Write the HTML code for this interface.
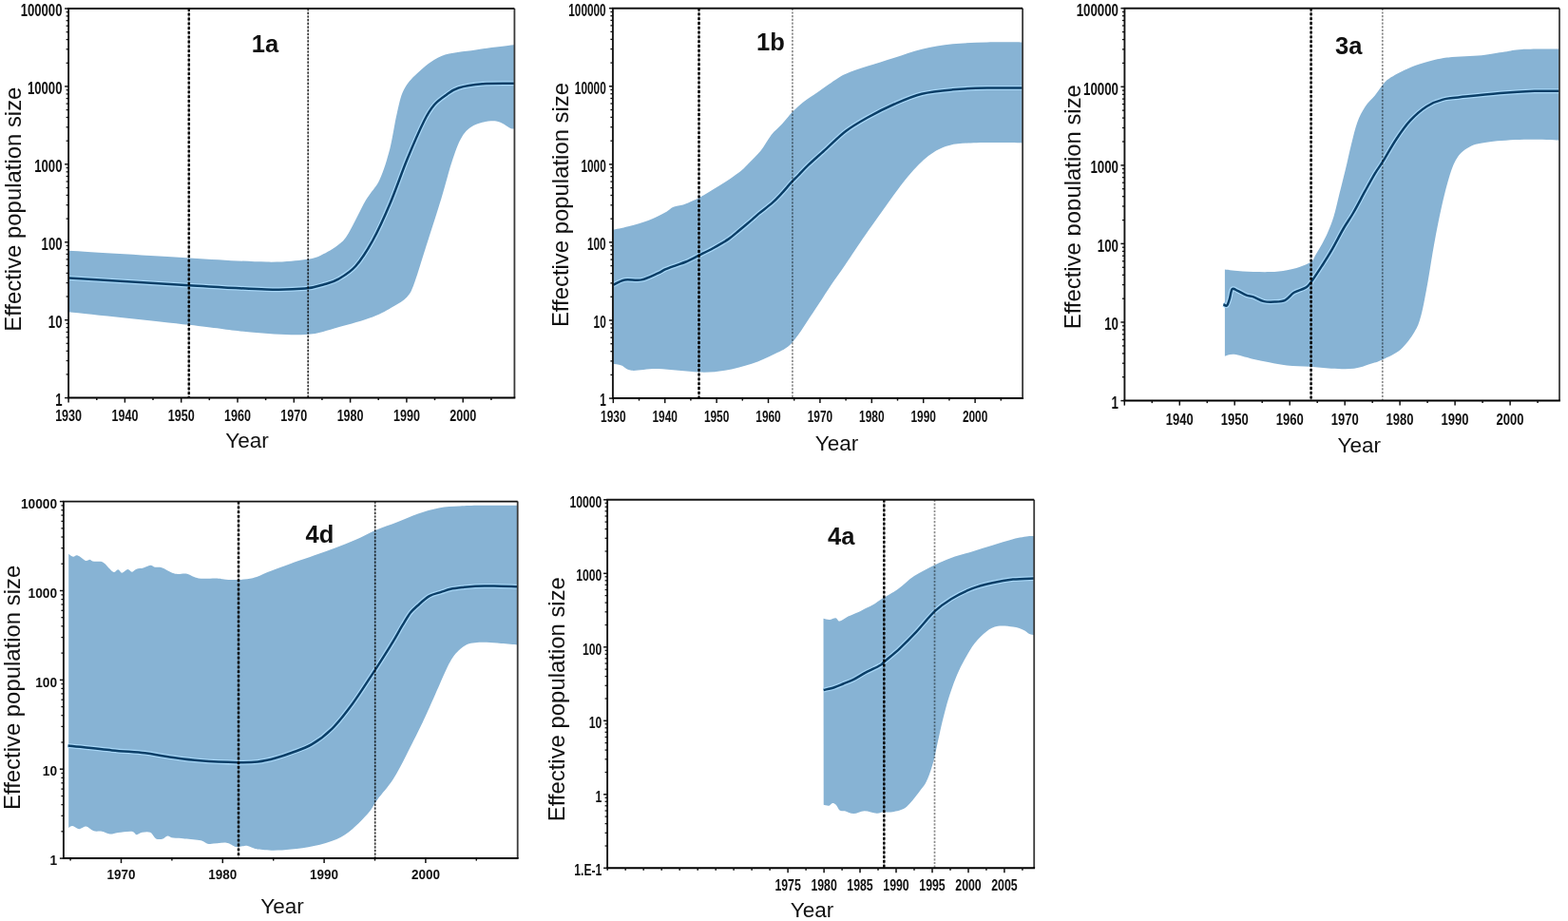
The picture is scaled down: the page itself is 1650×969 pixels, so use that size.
<!DOCTYPE html>
<html><head><meta charset="utf-8"><title>Effective population size</title>
<style>
html,body{margin:0;padding:0;background:#fff;}
body{width:1650px;height:969px;overflow:hidden;}
svg{display:block;}
.t{font-family:"Liberation Sans",Arial,sans-serif;fill:#111;}
.n{font-family:"Liberation Sans",Arial,sans-serif;font-weight:bold;fill:#111;}
.b{font-family:"Liberation Sans",Arial,sans-serif;font-weight:bold;fill:#111;}
</style></head>
<body>
<svg width="1650" height="969" viewBox="0 0 1650 969">
<defs><clipPath id="c3a"><rect x="1100" y="0" width="36.9" height="480"/></clipPath></defs>
<rect width="1650" height="969" fill="#fff"/>
<clipPath id="cp1a"><rect x="72.1" y="9.0" width="469.3" height="409.6"/></clipPath>
<g clip-path="url(#cp1a)">
<path d="M72.1,263.8 C93.3,265.1 164.3,269.4 199.1,271.4 C233.8,273.4 260.2,275.3 280.6,275.6 C301.0,275.9 311.7,274.2 321.3,273.0 C330.9,271.8 332.2,271.0 338.0,268.4 C343.8,265.8 351.3,261.4 356.1,257.5 C360.9,253.6 362.2,252.7 367.0,244.9 C371.8,237.1 379.6,219.9 385.0,210.6 C390.4,201.3 395.3,197.9 399.5,188.9 C403.7,179.9 407.3,167.8 410.3,156.4 C413.3,145.0 415.1,130.5 417.5,120.3 C419.9,110.1 421.1,102.2 424.7,95.0 C428.3,87.8 432.6,83.0 439.2,77.0 C445.8,71.0 454.3,63.0 464.5,58.9 C474.7,54.8 488.0,54.3 500.6,52.4 C513.2,50.5 533.5,48.1 540.3,47.3 C547.1,46.4 541.2,47.3 541.4,47.3 L541.4,135.5 C540.6,135.4 539.9,136.0 536.7,134.7 C533.5,133.4 528.2,128.1 522.2,127.5 C516.2,126.9 506.6,128.3 500.6,131.1 C494.6,133.8 490.3,137.3 486.1,144.0 C481.9,150.7 478.9,160.2 475.3,171.0 C471.7,181.8 469.3,192.8 464.5,208.5 C459.7,224.2 451.2,250.4 446.4,265.5 C441.6,280.6 438.6,291.2 435.6,299.0 C432.6,306.8 431.9,308.6 428.3,312.5 C424.7,316.4 419.9,319.0 413.9,322.5 C407.9,326.0 401.8,329.8 392.2,333.4 C382.6,337.0 367.9,341.1 356.1,344.2 C344.3,347.3 336.7,351.1 321.3,352.0 C305.9,352.9 284.0,351.2 263.6,349.5 C243.2,347.8 230.9,345.4 199.0,341.8 C167.1,338.2 93.2,330.5 72.1,328.2 Z" fill="#87b3d4"/>
<path d="M72.7,292.6 C93.8,293.9 164.4,298.2 199.0,300.2 C233.6,302.2 259.7,303.9 280.0,304.5 C300.3,305.1 310.7,304.5 321.0,303.6 C331.3,302.7 335.8,300.7 341.7,299.0 C347.6,297.3 350.7,296.8 356.1,293.6 C361.5,290.4 368.2,286.8 374.2,280.0 C380.2,273.2 386.2,263.9 392.2,253.0 C398.2,242.1 404.3,228.7 410.3,214.5 C416.3,200.3 422.3,182.6 428.3,168.0 C434.3,153.4 441.6,136.6 446.4,127.0 C451.2,117.4 453.1,114.8 457.0,110.3 C460.9,105.8 465.2,103.0 469.5,100.0 C473.8,97.0 476.1,94.5 482.5,92.5 C488.9,90.5 498.0,89.1 507.8,88.3 C517.6,87.5 535.8,87.9 541.4,87.8" fill="none" stroke="#a8d7f7" stroke-width="5" stroke-linejoin="round"/>
<path d="M72.7,292.6 C93.8,293.9 164.4,298.2 199.0,300.2 C233.6,302.2 259.7,303.9 280.0,304.5 C300.3,305.1 310.7,304.5 321.0,303.6 C331.3,302.7 335.8,300.7 341.7,299.0 C347.6,297.3 350.7,296.8 356.1,293.6 C361.5,290.4 368.2,286.8 374.2,280.0 C380.2,273.2 386.2,263.9 392.2,253.0 C398.2,242.1 404.3,228.7 410.3,214.5 C416.3,200.3 422.3,182.6 428.3,168.0 C434.3,153.4 441.6,136.6 446.4,127.0 C451.2,117.4 453.1,114.8 457.0,110.3 C460.9,105.8 465.2,103.0 469.5,100.0 C473.8,97.0 476.1,94.5 482.5,92.5 C488.9,90.5 498.0,89.1 507.8,88.3 C517.6,87.5 535.8,87.9 541.4,87.8" fill="none" stroke="#0b3f68" stroke-width="2.5" stroke-linejoin="round"/>
</g>
<line x1="198.8" y1="9.0" x2="198.8" y2="418.6" stroke="#000" stroke-opacity="0.35" stroke-width="1.3"/>
<line x1="198.8" y1="9.0" x2="198.8" y2="418.6" stroke="#000" stroke-width="2.5" stroke-dasharray="2.8 2"/>
<line x1="324.2" y1="9.0" x2="324.2" y2="418.6" stroke="#000" stroke-opacity="0.2" stroke-width="1"/>
<line x1="324.2" y1="9.0" x2="324.2" y2="418.6" stroke="#000" stroke-opacity="0.75" stroke-width="1.7" stroke-dasharray="2.2 1.5"/>
<line x1="541.4" y1="9.0" x2="541.4" y2="418.6" stroke="#3a3a3a" stroke-width="1.8"/>
<path d="M72.1,418.6 L72.1,9.0 L541.4,9.0" fill="none" stroke="#151515" stroke-width="1.9"/>
<line x1="71.19999999999999" y1="418.6" x2="542.3" y2="418.6" stroke="#000" stroke-width="2"/>
<line x1="68.1" y1="418.6" x2="72.1" y2="418.6" stroke="#111" stroke-width="1.5"/>
<line x1="69.6" y1="393.9" x2="72.1" y2="393.9" stroke="#111" stroke-width="1.3"/>
<line x1="69.6" y1="379.5" x2="72.1" y2="379.5" stroke="#111" stroke-width="1.3"/>
<line x1="69.6" y1="369.3" x2="72.1" y2="369.3" stroke="#111" stroke-width="1.3"/>
<line x1="69.6" y1="361.3" x2="72.1" y2="361.3" stroke="#111" stroke-width="1.3"/>
<line x1="69.6" y1="354.9" x2="72.1" y2="354.9" stroke="#111" stroke-width="1.3"/>
<line x1="69.6" y1="349.4" x2="72.1" y2="349.4" stroke="#111" stroke-width="1.3"/>
<line x1="69.6" y1="344.6" x2="72.1" y2="344.6" stroke="#111" stroke-width="1.3"/>
<line x1="69.6" y1="340.4" x2="72.1" y2="340.4" stroke="#111" stroke-width="1.3"/>
<line x1="68.1" y1="336.7" x2="72.1" y2="336.7" stroke="#111" stroke-width="1.5"/>
<line x1="69.6" y1="312.0" x2="72.1" y2="312.0" stroke="#111" stroke-width="1.3"/>
<line x1="69.6" y1="297.6" x2="72.1" y2="297.6" stroke="#111" stroke-width="1.3"/>
<line x1="69.6" y1="287.4" x2="72.1" y2="287.4" stroke="#111" stroke-width="1.3"/>
<line x1="69.6" y1="279.4" x2="72.1" y2="279.4" stroke="#111" stroke-width="1.3"/>
<line x1="69.6" y1="272.9" x2="72.1" y2="272.9" stroke="#111" stroke-width="1.3"/>
<line x1="69.6" y1="267.4" x2="72.1" y2="267.4" stroke="#111" stroke-width="1.3"/>
<line x1="69.6" y1="262.7" x2="72.1" y2="262.7" stroke="#111" stroke-width="1.3"/>
<line x1="69.6" y1="258.5" x2="72.1" y2="258.5" stroke="#111" stroke-width="1.3"/>
<line x1="68.1" y1="254.8" x2="72.1" y2="254.8" stroke="#111" stroke-width="1.5"/>
<line x1="69.6" y1="230.1" x2="72.1" y2="230.1" stroke="#111" stroke-width="1.3"/>
<line x1="69.6" y1="215.7" x2="72.1" y2="215.7" stroke="#111" stroke-width="1.3"/>
<line x1="69.6" y1="205.4" x2="72.1" y2="205.4" stroke="#111" stroke-width="1.3"/>
<line x1="69.6" y1="197.5" x2="72.1" y2="197.5" stroke="#111" stroke-width="1.3"/>
<line x1="69.6" y1="191.0" x2="72.1" y2="191.0" stroke="#111" stroke-width="1.3"/>
<line x1="69.6" y1="185.5" x2="72.1" y2="185.5" stroke="#111" stroke-width="1.3"/>
<line x1="69.6" y1="180.8" x2="72.1" y2="180.8" stroke="#111" stroke-width="1.3"/>
<line x1="69.6" y1="176.6" x2="72.1" y2="176.6" stroke="#111" stroke-width="1.3"/>
<line x1="68.1" y1="172.8" x2="72.1" y2="172.8" stroke="#111" stroke-width="1.5"/>
<line x1="69.6" y1="148.2" x2="72.1" y2="148.2" stroke="#111" stroke-width="1.3"/>
<line x1="69.6" y1="133.8" x2="72.1" y2="133.8" stroke="#111" stroke-width="1.3"/>
<line x1="69.6" y1="123.5" x2="72.1" y2="123.5" stroke="#111" stroke-width="1.3"/>
<line x1="69.6" y1="115.6" x2="72.1" y2="115.6" stroke="#111" stroke-width="1.3"/>
<line x1="69.6" y1="109.1" x2="72.1" y2="109.1" stroke="#111" stroke-width="1.3"/>
<line x1="69.6" y1="103.6" x2="72.1" y2="103.6" stroke="#111" stroke-width="1.3"/>
<line x1="69.6" y1="98.9" x2="72.1" y2="98.9" stroke="#111" stroke-width="1.3"/>
<line x1="69.6" y1="94.7" x2="72.1" y2="94.7" stroke="#111" stroke-width="1.3"/>
<line x1="68.1" y1="90.9" x2="72.1" y2="90.9" stroke="#111" stroke-width="1.5"/>
<line x1="69.6" y1="66.3" x2="72.1" y2="66.3" stroke="#111" stroke-width="1.3"/>
<line x1="69.6" y1="51.8" x2="72.1" y2="51.8" stroke="#111" stroke-width="1.3"/>
<line x1="69.6" y1="41.6" x2="72.1" y2="41.6" stroke="#111" stroke-width="1.3"/>
<line x1="69.6" y1="33.7" x2="72.1" y2="33.7" stroke="#111" stroke-width="1.3"/>
<line x1="69.6" y1="27.2" x2="72.1" y2="27.2" stroke="#111" stroke-width="1.3"/>
<line x1="69.6" y1="21.7" x2="72.1" y2="21.7" stroke="#111" stroke-width="1.3"/>
<line x1="69.6" y1="16.9" x2="72.1" y2="16.9" stroke="#111" stroke-width="1.3"/>
<line x1="69.6" y1="12.7" x2="72.1" y2="12.7" stroke="#111" stroke-width="1.3"/>
<line x1="68.1" y1="9.0" x2="72.1" y2="9.0" stroke="#111" stroke-width="1.5"/>
<text x="0" y="0" transform="translate(65.5,426.7) scale(0.731,1)" text-anchor="end" font-size="18" class="n">1</text>
<text x="0" y="0" transform="translate(65.5,344.8) scale(0.731,1)" text-anchor="end" font-size="18" class="n">10</text>
<text x="0" y="0" transform="translate(65.5,262.8) scale(0.731,1)" text-anchor="end" font-size="18" class="n">100</text>
<text x="0" y="0" transform="translate(65.5,180.9) scale(0.731,1)" text-anchor="end" font-size="18" class="n">1000</text>
<text x="0" y="0" transform="translate(65.5,99.0) scale(0.731,1)" text-anchor="end" font-size="18" class="n">10000</text>
<text x="0" y="0" transform="translate(65.5,17.1) scale(0.731,1)" text-anchor="end" font-size="18" class="n">100000</text>
<line x1="72.1" y1="418.6" x2="72.1" y2="423.6" stroke="#111" stroke-width="1.5"/>
<line x1="101.8" y1="418.6" x2="101.8" y2="421.1" stroke="#111" stroke-width="1.5"/>
<line x1="131.4" y1="418.6" x2="131.4" y2="423.6" stroke="#111" stroke-width="1.5"/>
<line x1="161.0" y1="418.6" x2="161.0" y2="421.1" stroke="#111" stroke-width="1.5"/>
<line x1="190.7" y1="418.6" x2="190.7" y2="423.6" stroke="#111" stroke-width="1.5"/>
<line x1="220.3" y1="418.6" x2="220.3" y2="421.1" stroke="#111" stroke-width="1.5"/>
<line x1="250.0" y1="418.6" x2="250.0" y2="423.6" stroke="#111" stroke-width="1.5"/>
<line x1="279.6" y1="418.6" x2="279.6" y2="421.1" stroke="#111" stroke-width="1.5"/>
<line x1="309.3" y1="418.6" x2="309.3" y2="423.6" stroke="#111" stroke-width="1.5"/>
<line x1="338.9" y1="418.6" x2="338.9" y2="421.1" stroke="#111" stroke-width="1.5"/>
<line x1="368.6" y1="418.6" x2="368.6" y2="423.6" stroke="#111" stroke-width="1.5"/>
<line x1="398.2" y1="418.6" x2="398.2" y2="421.1" stroke="#111" stroke-width="1.5"/>
<line x1="427.9" y1="418.6" x2="427.9" y2="423.6" stroke="#111" stroke-width="1.5"/>
<line x1="457.5" y1="418.6" x2="457.5" y2="421.1" stroke="#111" stroke-width="1.5"/>
<line x1="487.2" y1="418.6" x2="487.2" y2="423.6" stroke="#111" stroke-width="1.5"/>
<line x1="516.9" y1="418.6" x2="516.9" y2="421.1" stroke="#111" stroke-width="1.5"/>
<text x="0" y="0" transform="translate(72.1,443.3) scale(0.74,1)" text-anchor="middle" font-size="17" class="n">1930</text>
<text x="0" y="0" transform="translate(131.4,443.3) scale(0.74,1)" text-anchor="middle" font-size="17" class="n">1940</text>
<text x="0" y="0" transform="translate(190.7,443.3) scale(0.74,1)" text-anchor="middle" font-size="17" class="n">1950</text>
<text x="0" y="0" transform="translate(250.0,443.3) scale(0.74,1)" text-anchor="middle" font-size="17" class="n">1960</text>
<text x="0" y="0" transform="translate(309.3,443.3) scale(0.74,1)" text-anchor="middle" font-size="17" class="n">1970</text>
<text x="0" y="0" transform="translate(368.6,443.3) scale(0.74,1)" text-anchor="middle" font-size="17" class="n">1980</text>
<text x="0" y="0" transform="translate(427.9,443.3) scale(0.74,1)" text-anchor="middle" font-size="17" class="n">1990</text>
<text x="0" y="0" transform="translate(487.2,443.3) scale(0.74,1)" text-anchor="middle" font-size="17" class="n">2000</text>
<g><text x="0" y="0" transform="translate(22.0,220.2) rotate(-90)" text-anchor="middle" font-size="23.9" class="t">Effective population size</text></g>
<text x="260" y="471" text-anchor="middle" font-size="22.5" class="t">Year</text>
<text x="264.8" y="54.5" font-size="25.5" class="b">1a</text>
<clipPath id="cp1b"><rect x="644.9" y="8.7" width="431.2" height="410.4"/></clipPath>
<g clip-path="url(#cp1b)">
<path d="M644.9,241.8 C647.6,241.2 654.9,239.8 661.1,238.2 C667.3,236.5 675.6,234.3 682.1,231.9 C688.6,229.5 695.6,225.9 700.0,223.5 C704.4,221.1 705.6,219.0 708.7,217.7 C711.8,216.4 715.4,216.6 718.8,215.5 C722.2,214.4 726.1,212.4 728.9,211.2 C731.7,210.0 732.3,210.0 735.4,208.3 C738.5,206.6 743.5,203.6 747.7,201.1 C751.9,198.6 756.6,195.8 760.7,193.1 C764.8,190.4 768.9,187.6 772.3,185.2 C775.7,182.8 778.2,181.0 780.9,178.7 C783.5,176.4 784.9,174.8 788.2,171.4 C791.5,168.0 796.7,163.4 800.6,158.5 C804.5,153.6 808.1,146.5 811.8,141.8 C815.5,137.2 819.2,134.6 822.9,130.6 C826.6,126.6 830.4,121.5 834.1,117.6 C837.8,113.7 840.9,110.8 845.2,107.4 C849.5,104.0 854.5,101.1 860.1,97.2 C865.7,93.3 873.7,87.5 878.7,84.2 C883.7,81.0 884.4,80.1 890.0,77.7 C895.6,75.3 903.8,72.6 912.3,69.8 C920.8,67.0 931.6,63.7 941.2,60.7 C950.8,57.7 959.9,54.1 970.1,51.7 C980.3,49.3 991.2,47.5 1002.6,46.3 C1014.0,45.1 1026.5,44.8 1038.8,44.5 C1051.0,44.2 1069.9,44.5 1076.1,44.5 L1076.1,150.3 C1068.1,150.3 1040.8,149.9 1027.9,150.3 C1015.1,150.7 1007.4,150.7 999.0,152.9 C990.6,155.1 984.5,158.3 977.3,163.7 C970.1,169.1 962.8,177.0 955.6,185.4 C948.4,193.8 942.5,202.5 934.0,214.3 C925.5,226.1 911.8,245.6 904.4,256.3 C897.0,267.0 894.9,270.8 889.5,278.6 C884.1,286.5 877.4,295.7 872.2,303.4 C867.0,311.1 864.5,315.6 858.1,325.0 C851.7,334.4 841.1,352.1 834.0,360.0 C826.9,367.9 822.6,368.5 815.4,372.3 C808.2,376.1 799.7,379.9 790.9,382.8 C782.1,385.7 772.0,388.3 762.8,389.8 C753.5,391.3 747.1,391.9 735.4,391.6 C723.7,391.3 704.4,388.4 692.6,388.1 C680.8,387.8 671.0,390.4 664.6,389.8 C658.2,389.2 657.3,385.8 654.0,384.6 C650.7,383.4 646.4,383.1 644.9,382.8 Z" fill="#87b3d4"/>
<path d="M645.5,299.6 C647.5,298.7 652.6,295.3 657.5,294.4 C662.4,293.5 669.2,295.6 675.1,294.4 C681.0,293.2 688.5,289.2 692.6,287.4 C696.8,285.6 696.8,284.8 700.0,283.4 C703.2,282.0 708.0,280.4 711.6,279.1 C715.2,277.8 717.7,277.2 721.7,275.5 C725.7,273.8 730.6,271.1 735.4,268.7 C740.2,266.3 745.4,263.9 750.6,261.0 C755.8,258.1 761.9,254.7 766.5,251.6 C771.1,248.5 773.9,245.7 778.0,242.3 C782.1,238.9 787.6,234.3 791.0,231.4 C794.4,228.5 794.7,227.9 798.3,224.9 C801.9,221.9 808.6,217.0 812.7,213.4 C816.8,209.8 819.4,206.8 822.8,203.2 C826.2,199.6 830.0,194.8 832.9,191.7 C835.8,188.6 837.0,187.6 840.0,184.5 C843.0,181.4 845.9,178.1 850.8,173.4 C855.7,168.8 862.9,162.5 869.4,156.6 C875.9,150.7 882.9,143.4 890.0,138.0 C897.1,132.6 903.8,128.8 912.3,124.0 C920.8,119.2 931.6,113.7 941.2,109.5 C950.8,105.3 959.9,101.2 970.1,98.7 C980.3,96.2 991.2,95.3 1002.6,94.3 C1014.0,93.3 1026.5,92.8 1038.8,92.5 C1051.0,92.2 1069.9,92.5 1076.1,92.5" fill="none" stroke="#a8d7f7" stroke-width="5" stroke-linejoin="round"/>
<path d="M645.5,299.6 C647.5,298.7 652.6,295.3 657.5,294.4 C662.4,293.5 669.2,295.6 675.1,294.4 C681.0,293.2 688.5,289.2 692.6,287.4 C696.8,285.6 696.8,284.8 700.0,283.4 C703.2,282.0 708.0,280.4 711.6,279.1 C715.2,277.8 717.7,277.2 721.7,275.5 C725.7,273.8 730.6,271.1 735.4,268.7 C740.2,266.3 745.4,263.9 750.6,261.0 C755.8,258.1 761.9,254.7 766.5,251.6 C771.1,248.5 773.9,245.7 778.0,242.3 C782.1,238.9 787.6,234.3 791.0,231.4 C794.4,228.5 794.7,227.9 798.3,224.9 C801.9,221.9 808.6,217.0 812.7,213.4 C816.8,209.8 819.4,206.8 822.8,203.2 C826.2,199.6 830.0,194.8 832.9,191.7 C835.8,188.6 837.0,187.6 840.0,184.5 C843.0,181.4 845.9,178.1 850.8,173.4 C855.7,168.8 862.9,162.5 869.4,156.6 C875.9,150.7 882.9,143.4 890.0,138.0 C897.1,132.6 903.8,128.8 912.3,124.0 C920.8,119.2 931.6,113.7 941.2,109.5 C950.8,105.3 959.9,101.2 970.1,98.7 C980.3,96.2 991.2,95.3 1002.6,94.3 C1014.0,93.3 1026.5,92.8 1038.8,92.5 C1051.0,92.2 1069.9,92.5 1076.1,92.5" fill="none" stroke="#0b3f68" stroke-width="2.5" stroke-linejoin="round"/>
</g>
<line x1="735.5" y1="8.7" x2="735.5" y2="419.1" stroke="#000" stroke-opacity="0.35" stroke-width="1.3"/>
<line x1="735.5" y1="8.7" x2="735.5" y2="419.1" stroke="#000" stroke-width="2.5" stroke-dasharray="2.8 2"/>
<line x1="833.9" y1="8.7" x2="833.9" y2="419.1" stroke="#000" stroke-opacity="0.45" stroke-width="1.7" stroke-dasharray="2.2 1.5"/>
<line x1="1076.1" y1="8.7" x2="1076.1" y2="419.1" stroke="#3a3a3a" stroke-width="1.8"/>
<path d="M644.9,419.1 L644.9,8.7 L1076.1,8.7" fill="none" stroke="#151515" stroke-width="1.9"/>
<line x1="644.0" y1="419.1" x2="1077.0" y2="419.1" stroke="#000" stroke-width="2"/>
<line x1="640.9" y1="419.1" x2="644.9" y2="419.1" stroke="#111" stroke-width="1.5"/>
<line x1="642.4" y1="394.4" x2="644.9" y2="394.4" stroke="#111" stroke-width="1.3"/>
<line x1="642.4" y1="379.9" x2="644.9" y2="379.9" stroke="#111" stroke-width="1.3"/>
<line x1="642.4" y1="369.7" x2="644.9" y2="369.7" stroke="#111" stroke-width="1.3"/>
<line x1="642.4" y1="361.7" x2="644.9" y2="361.7" stroke="#111" stroke-width="1.3"/>
<line x1="642.4" y1="355.2" x2="644.9" y2="355.2" stroke="#111" stroke-width="1.3"/>
<line x1="642.4" y1="349.7" x2="644.9" y2="349.7" stroke="#111" stroke-width="1.3"/>
<line x1="642.4" y1="345.0" x2="644.9" y2="345.0" stroke="#111" stroke-width="1.3"/>
<line x1="642.4" y1="340.8" x2="644.9" y2="340.8" stroke="#111" stroke-width="1.3"/>
<line x1="640.9" y1="337.0" x2="644.9" y2="337.0" stroke="#111" stroke-width="1.5"/>
<line x1="642.4" y1="312.3" x2="644.9" y2="312.3" stroke="#111" stroke-width="1.3"/>
<line x1="642.4" y1="297.9" x2="644.9" y2="297.9" stroke="#111" stroke-width="1.3"/>
<line x1="642.4" y1="287.6" x2="644.9" y2="287.6" stroke="#111" stroke-width="1.3"/>
<line x1="642.4" y1="279.6" x2="644.9" y2="279.6" stroke="#111" stroke-width="1.3"/>
<line x1="642.4" y1="273.1" x2="644.9" y2="273.1" stroke="#111" stroke-width="1.3"/>
<line x1="642.4" y1="267.7" x2="644.9" y2="267.7" stroke="#111" stroke-width="1.3"/>
<line x1="642.4" y1="262.9" x2="644.9" y2="262.9" stroke="#111" stroke-width="1.3"/>
<line x1="642.4" y1="258.7" x2="644.9" y2="258.7" stroke="#111" stroke-width="1.3"/>
<line x1="640.9" y1="254.9" x2="644.9" y2="254.9" stroke="#111" stroke-width="1.5"/>
<line x1="642.4" y1="230.2" x2="644.9" y2="230.2" stroke="#111" stroke-width="1.3"/>
<line x1="642.4" y1="215.8" x2="644.9" y2="215.8" stroke="#111" stroke-width="1.3"/>
<line x1="642.4" y1="205.5" x2="644.9" y2="205.5" stroke="#111" stroke-width="1.3"/>
<line x1="642.4" y1="197.6" x2="644.9" y2="197.6" stroke="#111" stroke-width="1.3"/>
<line x1="642.4" y1="191.1" x2="644.9" y2="191.1" stroke="#111" stroke-width="1.3"/>
<line x1="642.4" y1="185.6" x2="644.9" y2="185.6" stroke="#111" stroke-width="1.3"/>
<line x1="642.4" y1="180.8" x2="644.9" y2="180.8" stroke="#111" stroke-width="1.3"/>
<line x1="642.4" y1="176.6" x2="644.9" y2="176.6" stroke="#111" stroke-width="1.3"/>
<line x1="640.9" y1="172.9" x2="644.9" y2="172.9" stroke="#111" stroke-width="1.5"/>
<line x1="642.4" y1="148.2" x2="644.9" y2="148.2" stroke="#111" stroke-width="1.3"/>
<line x1="642.4" y1="133.7" x2="644.9" y2="133.7" stroke="#111" stroke-width="1.3"/>
<line x1="642.4" y1="123.4" x2="644.9" y2="123.4" stroke="#111" stroke-width="1.3"/>
<line x1="642.4" y1="115.5" x2="644.9" y2="115.5" stroke="#111" stroke-width="1.3"/>
<line x1="642.4" y1="109.0" x2="644.9" y2="109.0" stroke="#111" stroke-width="1.3"/>
<line x1="642.4" y1="103.5" x2="644.9" y2="103.5" stroke="#111" stroke-width="1.3"/>
<line x1="642.4" y1="98.7" x2="644.9" y2="98.7" stroke="#111" stroke-width="1.3"/>
<line x1="642.4" y1="94.5" x2="644.9" y2="94.5" stroke="#111" stroke-width="1.3"/>
<line x1="640.9" y1="90.8" x2="644.9" y2="90.8" stroke="#111" stroke-width="1.5"/>
<line x1="642.4" y1="66.1" x2="644.9" y2="66.1" stroke="#111" stroke-width="1.3"/>
<line x1="642.4" y1="51.6" x2="644.9" y2="51.6" stroke="#111" stroke-width="1.3"/>
<line x1="642.4" y1="41.4" x2="644.9" y2="41.4" stroke="#111" stroke-width="1.3"/>
<line x1="642.4" y1="33.4" x2="644.9" y2="33.4" stroke="#111" stroke-width="1.3"/>
<line x1="642.4" y1="26.9" x2="644.9" y2="26.9" stroke="#111" stroke-width="1.3"/>
<line x1="642.4" y1="21.4" x2="644.9" y2="21.4" stroke="#111" stroke-width="1.3"/>
<line x1="642.4" y1="16.7" x2="644.9" y2="16.7" stroke="#111" stroke-width="1.3"/>
<line x1="642.4" y1="12.5" x2="644.9" y2="12.5" stroke="#111" stroke-width="1.3"/>
<line x1="640.9" y1="8.7" x2="644.9" y2="8.7" stroke="#111" stroke-width="1.5"/>
<text x="0" y="0" transform="translate(637.7,427.2) scale(0.656,1)" text-anchor="end" font-size="18" class="n">1</text>
<text x="0" y="0" transform="translate(637.7,345.1) scale(0.656,1)" text-anchor="end" font-size="18" class="n">10</text>
<text x="0" y="0" transform="translate(637.7,263.0) scale(0.656,1)" text-anchor="end" font-size="18" class="n">100</text>
<text x="0" y="0" transform="translate(637.7,180.9) scale(0.656,1)" text-anchor="end" font-size="18" class="n">1000</text>
<text x="0" y="0" transform="translate(637.7,98.9) scale(0.656,1)" text-anchor="end" font-size="18" class="n">10000</text>
<text x="0" y="0" transform="translate(637.7,16.8) scale(0.656,1)" text-anchor="end" font-size="18" class="n">100000</text>
<line x1="645.3" y1="419.1" x2="645.3" y2="424.1" stroke="#111" stroke-width="1.5"/>
<line x1="672.5" y1="419.1" x2="672.5" y2="421.6" stroke="#111" stroke-width="1.5"/>
<line x1="699.7" y1="419.1" x2="699.7" y2="424.1" stroke="#111" stroke-width="1.5"/>
<line x1="726.9" y1="419.1" x2="726.9" y2="421.6" stroke="#111" stroke-width="1.5"/>
<line x1="754.1" y1="419.1" x2="754.1" y2="424.1" stroke="#111" stroke-width="1.5"/>
<line x1="781.3" y1="419.1" x2="781.3" y2="421.6" stroke="#111" stroke-width="1.5"/>
<line x1="808.5" y1="419.1" x2="808.5" y2="424.1" stroke="#111" stroke-width="1.5"/>
<line x1="835.7" y1="419.1" x2="835.7" y2="421.6" stroke="#111" stroke-width="1.5"/>
<line x1="862.9" y1="419.1" x2="862.9" y2="424.1" stroke="#111" stroke-width="1.5"/>
<line x1="890.1" y1="419.1" x2="890.1" y2="421.6" stroke="#111" stroke-width="1.5"/>
<line x1="917.3" y1="419.1" x2="917.3" y2="424.1" stroke="#111" stroke-width="1.5"/>
<line x1="944.5" y1="419.1" x2="944.5" y2="421.6" stroke="#111" stroke-width="1.5"/>
<line x1="971.7" y1="419.1" x2="971.7" y2="424.1" stroke="#111" stroke-width="1.5"/>
<line x1="998.9" y1="419.1" x2="998.9" y2="421.6" stroke="#111" stroke-width="1.5"/>
<line x1="1026.1" y1="419.1" x2="1026.1" y2="424.1" stroke="#111" stroke-width="1.5"/>
<line x1="1053.3" y1="419.1" x2="1053.3" y2="421.6" stroke="#111" stroke-width="1.5"/>
<text x="0" y="0" transform="translate(645.3,443.6) scale(0.7,1)" text-anchor="middle" font-size="17" class="n">1930</text>
<text x="0" y="0" transform="translate(699.7,443.6) scale(0.7,1)" text-anchor="middle" font-size="17" class="n">1940</text>
<text x="0" y="0" transform="translate(754.1,443.6) scale(0.7,1)" text-anchor="middle" font-size="17" class="n">1950</text>
<text x="0" y="0" transform="translate(808.5,443.6) scale(0.7,1)" text-anchor="middle" font-size="17" class="n">1960</text>
<text x="0" y="0" transform="translate(862.9,443.6) scale(0.7,1)" text-anchor="middle" font-size="17" class="n">1970</text>
<text x="0" y="0" transform="translate(917.3,443.6) scale(0.7,1)" text-anchor="middle" font-size="17" class="n">1980</text>
<text x="0" y="0" transform="translate(971.7,443.6) scale(0.7,1)" text-anchor="middle" font-size="17" class="n">1990</text>
<text x="0" y="0" transform="translate(1026.1,443.6) scale(0.7,1)" text-anchor="middle" font-size="17" class="n">2000</text>
<g><text x="0" y="0" transform="translate(598.0,215.5) rotate(-90)" text-anchor="middle" font-size="23.9" class="t">Effective population size</text></g>
<text x="880.5" y="474.3" text-anchor="middle" font-size="22.5" class="t">Year</text>
<text x="796.0" y="53" font-size="25.5" class="b">1b</text>
<clipPath id="cp3a"><rect x="1183.4" y="8.7" width="457.6" height="412.9"/></clipPath>
<g clip-path="url(#cp3a)">
<path d="M1288.9,283.6 C1292.1,283.9 1300.1,285.1 1307.9,285.5 C1315.7,285.9 1328.0,286.3 1335.7,286.1 C1343.4,285.9 1349.0,285.1 1354.3,284.2 C1359.6,283.3 1363.1,282.3 1367.3,280.9 C1371.5,279.5 1376.7,277.9 1379.6,275.6 C1382.5,273.4 1382.9,270.5 1384.8,267.4 C1386.7,264.3 1388.9,260.8 1391.0,257.0 C1393.1,253.2 1395.1,249.4 1397.2,244.6 C1399.3,239.8 1401.3,235.0 1403.4,228.1 C1405.5,221.2 1407.5,211.6 1409.6,203.3 C1411.7,195.0 1413.7,187.1 1415.8,178.5 C1417.9,169.9 1419.9,160.0 1422.0,151.7 C1424.1,143.4 1425.8,135.4 1428.2,128.9 C1430.6,122.4 1433.3,117.1 1436.4,112.4 C1439.5,107.7 1443.7,104.3 1446.8,100.5 C1449.9,96.7 1452.2,92.5 1454.8,89.5 C1457.3,86.5 1457.8,85.2 1462.1,82.4 C1466.3,79.6 1474.2,75.4 1480.3,72.7 C1486.4,70.0 1491.4,68.1 1498.5,66.1 C1505.6,64.1 1512.6,61.9 1522.7,60.6 C1532.8,59.3 1549.0,59.2 1559.1,58.2 C1569.2,57.2 1576.2,55.5 1583.3,54.5 C1590.4,53.5 1591.9,52.4 1601.5,51.9 C1611.1,51.4 1634.4,51.6 1641.0,51.5 L1641.0,147.5 C1634.8,147.4 1616.0,146.5 1603.8,146.8 C1591.6,147.1 1577.3,148.0 1567.7,149.3 C1558.1,150.6 1552.1,151.4 1546.1,154.7 C1540.1,158.0 1535.8,161.3 1531.6,169.1 C1527.4,176.9 1524.4,187.8 1520.8,201.6 C1517.2,215.4 1513.0,236.5 1510.0,252.2 C1507.0,267.8 1505.1,282.3 1502.7,295.5 C1500.3,308.7 1497.9,322.6 1495.5,331.6 C1493.1,340.6 1491.9,343.6 1488.3,349.6 C1484.7,355.6 1479.5,362.9 1473.9,367.7 C1468.3,372.5 1460.0,375.8 1454.6,378.4 C1449.2,380.9 1446.5,381.4 1441.6,383.0 C1436.6,384.6 1431.7,386.9 1424.9,387.7 C1418.1,388.5 1408.5,388.0 1400.7,387.7 C1393.0,387.4 1386.1,386.3 1378.4,385.8 C1370.7,385.3 1361.4,385.3 1354.3,384.5 C1347.2,383.7 1341.9,382.4 1335.7,381.2 C1329.5,380.0 1323.3,378.8 1317.1,377.4 C1310.9,376.0 1303.3,373.2 1298.6,372.8 C1293.9,372.4 1290.5,374.4 1288.9,374.7 Z" fill="#87b3d4"/>
<path d="M1287.4,320.2 C1288.0,320.4 1290.0,322.4 1291.1,321.4 C1292.2,320.4 1293.0,317.2 1293.9,314.3 C1294.8,311.4 1295.3,305.5 1296.7,304.1 C1298.1,302.7 1299.8,304.8 1302.3,305.9 C1304.8,307.0 1308.8,309.5 1311.6,310.6 C1314.4,311.7 1315.9,311.3 1319.0,312.4 C1322.1,313.5 1326.4,316.2 1330.1,317.1 C1333.8,318.0 1337.6,317.8 1341.3,317.6 C1345.0,317.4 1349.0,317.4 1352.4,315.8 C1355.8,314.2 1358.3,309.9 1361.7,307.8 C1365.1,305.7 1370.1,304.7 1372.9,303.1 C1375.7,301.5 1375.6,302.2 1378.6,298.3 C1381.6,294.4 1387.2,285.7 1391.0,279.8 C1394.8,273.9 1397.5,269.8 1401.3,263.2 C1405.1,256.6 1409.9,247.0 1413.7,240.5 C1417.5,234.0 1420.2,230.6 1424.0,224.0 C1427.8,217.4 1432.6,208.1 1436.4,201.2 C1440.2,194.3 1443.7,187.8 1446.8,182.6 C1449.9,177.4 1451.3,176.2 1455.0,170.2 C1458.7,164.2 1464.3,153.9 1469.1,146.7 C1473.9,139.5 1478.5,132.7 1483.9,126.9 C1489.3,121.1 1495.5,115.7 1501.3,112.0 C1507.1,108.3 1511.7,106.3 1518.6,104.6 C1525.5,102.9 1532.5,102.7 1542.5,101.6 C1552.5,100.5 1566.6,99.0 1578.6,98.0 C1590.6,97.0 1604.3,96.2 1614.7,95.8 C1625.1,95.4 1636.6,95.8 1641.0,95.8" fill="none" stroke="#a8d7f7" stroke-width="5" stroke-linejoin="round"/>
<path d="M1287.4,320.2 C1288.0,320.4 1290.0,322.4 1291.1,321.4 C1292.2,320.4 1293.0,317.2 1293.9,314.3 C1294.8,311.4 1295.3,305.5 1296.7,304.1 C1298.1,302.7 1299.8,304.8 1302.3,305.9 C1304.8,307.0 1308.8,309.5 1311.6,310.6 C1314.4,311.7 1315.9,311.3 1319.0,312.4 C1322.1,313.5 1326.4,316.2 1330.1,317.1 C1333.8,318.0 1337.6,317.8 1341.3,317.6 C1345.0,317.4 1349.0,317.4 1352.4,315.8 C1355.8,314.2 1358.3,309.9 1361.7,307.8 C1365.1,305.7 1370.1,304.7 1372.9,303.1 C1375.7,301.5 1375.6,302.2 1378.6,298.3 C1381.6,294.4 1387.2,285.7 1391.0,279.8 C1394.8,273.9 1397.5,269.8 1401.3,263.2 C1405.1,256.6 1409.9,247.0 1413.7,240.5 C1417.5,234.0 1420.2,230.6 1424.0,224.0 C1427.8,217.4 1432.6,208.1 1436.4,201.2 C1440.2,194.3 1443.7,187.8 1446.8,182.6 C1449.9,177.4 1451.3,176.2 1455.0,170.2 C1458.7,164.2 1464.3,153.9 1469.1,146.7 C1473.9,139.5 1478.5,132.7 1483.9,126.9 C1489.3,121.1 1495.5,115.7 1501.3,112.0 C1507.1,108.3 1511.7,106.3 1518.6,104.6 C1525.5,102.9 1532.5,102.7 1542.5,101.6 C1552.5,100.5 1566.6,99.0 1578.6,98.0 C1590.6,97.0 1604.3,96.2 1614.7,95.8 C1625.1,95.4 1636.6,95.8 1641.0,95.8" fill="none" stroke="#0b3f68" stroke-width="2.5" stroke-linejoin="round"/>
</g>
<line x1="1379.6" y1="8.7" x2="1379.6" y2="421.6" stroke="#000" stroke-opacity="0.35" stroke-width="1.3"/>
<line x1="1379.6" y1="8.7" x2="1379.6" y2="421.6" stroke="#000" stroke-width="2.5" stroke-dasharray="2.8 2"/>
<line x1="1454.8" y1="8.7" x2="1454.8" y2="421.6" stroke="#000" stroke-opacity="0.45" stroke-width="1.7" stroke-dasharray="2.2 1.5"/>
<line x1="1641.0" y1="8.7" x2="1641.0" y2="421.6" stroke="#3a3a3a" stroke-width="1.8"/>
<path d="M1183.4,421.6 L1183.4,8.7 L1641.0,8.7" fill="none" stroke="#151515" stroke-width="1.9"/>
<line x1="1182.5" y1="421.6" x2="1641.9" y2="421.6" stroke="#000" stroke-width="2"/>
<line x1="1179.4" y1="421.6" x2="1183.4" y2="421.6" stroke="#111" stroke-width="1.5"/>
<line x1="1180.9" y1="396.7" x2="1183.4" y2="396.7" stroke="#111" stroke-width="1.3"/>
<line x1="1180.9" y1="382.2" x2="1183.4" y2="382.2" stroke="#111" stroke-width="1.3"/>
<line x1="1180.9" y1="371.9" x2="1183.4" y2="371.9" stroke="#111" stroke-width="1.3"/>
<line x1="1180.9" y1="363.9" x2="1183.4" y2="363.9" stroke="#111" stroke-width="1.3"/>
<line x1="1180.9" y1="357.3" x2="1183.4" y2="357.3" stroke="#111" stroke-width="1.3"/>
<line x1="1180.9" y1="351.8" x2="1183.4" y2="351.8" stroke="#111" stroke-width="1.3"/>
<line x1="1180.9" y1="347.0" x2="1183.4" y2="347.0" stroke="#111" stroke-width="1.3"/>
<line x1="1180.9" y1="342.8" x2="1183.4" y2="342.8" stroke="#111" stroke-width="1.3"/>
<line x1="1179.4" y1="339.0" x2="1183.4" y2="339.0" stroke="#111" stroke-width="1.5"/>
<line x1="1180.9" y1="314.2" x2="1183.4" y2="314.2" stroke="#111" stroke-width="1.3"/>
<line x1="1180.9" y1="299.6" x2="1183.4" y2="299.6" stroke="#111" stroke-width="1.3"/>
<line x1="1180.9" y1="289.3" x2="1183.4" y2="289.3" stroke="#111" stroke-width="1.3"/>
<line x1="1180.9" y1="281.3" x2="1183.4" y2="281.3" stroke="#111" stroke-width="1.3"/>
<line x1="1180.9" y1="274.8" x2="1183.4" y2="274.8" stroke="#111" stroke-width="1.3"/>
<line x1="1180.9" y1="269.2" x2="1183.4" y2="269.2" stroke="#111" stroke-width="1.3"/>
<line x1="1180.9" y1="264.4" x2="1183.4" y2="264.4" stroke="#111" stroke-width="1.3"/>
<line x1="1180.9" y1="260.2" x2="1183.4" y2="260.2" stroke="#111" stroke-width="1.3"/>
<line x1="1179.4" y1="256.4" x2="1183.4" y2="256.4" stroke="#111" stroke-width="1.5"/>
<line x1="1180.9" y1="231.6" x2="1183.4" y2="231.6" stroke="#111" stroke-width="1.3"/>
<line x1="1180.9" y1="217.0" x2="1183.4" y2="217.0" stroke="#111" stroke-width="1.3"/>
<line x1="1180.9" y1="206.7" x2="1183.4" y2="206.7" stroke="#111" stroke-width="1.3"/>
<line x1="1180.9" y1="198.7" x2="1183.4" y2="198.7" stroke="#111" stroke-width="1.3"/>
<line x1="1180.9" y1="192.2" x2="1183.4" y2="192.2" stroke="#111" stroke-width="1.3"/>
<line x1="1180.9" y1="186.7" x2="1183.4" y2="186.7" stroke="#111" stroke-width="1.3"/>
<line x1="1180.9" y1="181.9" x2="1183.4" y2="181.9" stroke="#111" stroke-width="1.3"/>
<line x1="1180.9" y1="177.6" x2="1183.4" y2="177.6" stroke="#111" stroke-width="1.3"/>
<line x1="1179.4" y1="173.9" x2="1183.4" y2="173.9" stroke="#111" stroke-width="1.5"/>
<line x1="1180.9" y1="149.0" x2="1183.4" y2="149.0" stroke="#111" stroke-width="1.3"/>
<line x1="1180.9" y1="134.5" x2="1183.4" y2="134.5" stroke="#111" stroke-width="1.3"/>
<line x1="1180.9" y1="124.1" x2="1183.4" y2="124.1" stroke="#111" stroke-width="1.3"/>
<line x1="1180.9" y1="116.1" x2="1183.4" y2="116.1" stroke="#111" stroke-width="1.3"/>
<line x1="1180.9" y1="109.6" x2="1183.4" y2="109.6" stroke="#111" stroke-width="1.3"/>
<line x1="1180.9" y1="104.1" x2="1183.4" y2="104.1" stroke="#111" stroke-width="1.3"/>
<line x1="1180.9" y1="99.3" x2="1183.4" y2="99.3" stroke="#111" stroke-width="1.3"/>
<line x1="1180.9" y1="95.1" x2="1183.4" y2="95.1" stroke="#111" stroke-width="1.3"/>
<line x1="1179.4" y1="91.3" x2="1183.4" y2="91.3" stroke="#111" stroke-width="1.5"/>
<line x1="1180.9" y1="66.4" x2="1183.4" y2="66.4" stroke="#111" stroke-width="1.3"/>
<line x1="1180.9" y1="51.9" x2="1183.4" y2="51.9" stroke="#111" stroke-width="1.3"/>
<line x1="1180.9" y1="41.6" x2="1183.4" y2="41.6" stroke="#111" stroke-width="1.3"/>
<line x1="1180.9" y1="33.6" x2="1183.4" y2="33.6" stroke="#111" stroke-width="1.3"/>
<line x1="1180.9" y1="27.0" x2="1183.4" y2="27.0" stroke="#111" stroke-width="1.3"/>
<line x1="1180.9" y1="21.5" x2="1183.4" y2="21.5" stroke="#111" stroke-width="1.3"/>
<line x1="1180.9" y1="16.7" x2="1183.4" y2="16.7" stroke="#111" stroke-width="1.3"/>
<line x1="1180.9" y1="12.5" x2="1183.4" y2="12.5" stroke="#111" stroke-width="1.3"/>
<line x1="1179.4" y1="8.7" x2="1183.4" y2="8.7" stroke="#111" stroke-width="1.5"/>
<text x="0" y="0" transform="translate(1177.0,429.9) scale(0.738,1)" text-anchor="end" font-size="18" class="n">1</text>
<text x="0" y="0" transform="translate(1177.0,347.3) scale(0.738,1)" text-anchor="end" font-size="18" class="n">10</text>
<text x="0" y="0" transform="translate(1177.0,264.7) scale(0.738,1)" text-anchor="end" font-size="18" class="n">100</text>
<text x="0" y="0" transform="translate(1177.0,182.1) scale(0.738,1)" text-anchor="end" font-size="18" class="n">1000</text>
<text x="0" y="0" transform="translate(1177.0,99.6) scale(0.738,1)" text-anchor="end" font-size="18" class="n">10000</text>
<text x="0" y="0" transform="translate(1177.0,17.0) scale(0.738,1)" text-anchor="end" font-size="18" class="n">100000</text>
<line x1="1183.3" y1="421.6" x2="1183.3" y2="426.6" stroke="#111" stroke-width="1.5"/>
<line x1="1212.3" y1="421.6" x2="1212.3" y2="424.1" stroke="#111" stroke-width="1.5"/>
<line x1="1241.3" y1="421.6" x2="1241.3" y2="426.6" stroke="#111" stroke-width="1.5"/>
<line x1="1270.3" y1="421.6" x2="1270.3" y2="424.1" stroke="#111" stroke-width="1.5"/>
<line x1="1299.2" y1="421.6" x2="1299.2" y2="426.6" stroke="#111" stroke-width="1.5"/>
<line x1="1328.2" y1="421.6" x2="1328.2" y2="424.1" stroke="#111" stroke-width="1.5"/>
<line x1="1357.2" y1="421.6" x2="1357.2" y2="426.6" stroke="#111" stroke-width="1.5"/>
<line x1="1386.2" y1="421.6" x2="1386.2" y2="424.1" stroke="#111" stroke-width="1.5"/>
<line x1="1415.2" y1="421.6" x2="1415.2" y2="426.6" stroke="#111" stroke-width="1.5"/>
<line x1="1444.2" y1="421.6" x2="1444.2" y2="424.1" stroke="#111" stroke-width="1.5"/>
<line x1="1473.1" y1="421.6" x2="1473.1" y2="426.6" stroke="#111" stroke-width="1.5"/>
<line x1="1502.1" y1="421.6" x2="1502.1" y2="424.1" stroke="#111" stroke-width="1.5"/>
<line x1="1531.1" y1="421.6" x2="1531.1" y2="426.6" stroke="#111" stroke-width="1.5"/>
<line x1="1560.1" y1="421.6" x2="1560.1" y2="424.1" stroke="#111" stroke-width="1.5"/>
<line x1="1589.1" y1="421.6" x2="1589.1" y2="426.6" stroke="#111" stroke-width="1.5"/>
<line x1="1618.1" y1="421.6" x2="1618.1" y2="424.1" stroke="#111" stroke-width="1.5"/>
<text x="0" y="0" transform="translate(1241.3,446.7) scale(0.79,1)" text-anchor="middle" font-size="16.5" class="n">1940</text>
<text x="0" y="0" transform="translate(1299.2,446.7) scale(0.79,1)" text-anchor="middle" font-size="16.5" class="n">1950</text>
<text x="0" y="0" transform="translate(1357.2,446.7) scale(0.79,1)" text-anchor="middle" font-size="16.5" class="n">1960</text>
<text x="0" y="0" transform="translate(1415.2,446.7) scale(0.79,1)" text-anchor="middle" font-size="16.5" class="n">1970</text>
<text x="0" y="0" transform="translate(1473.1,446.7) scale(0.79,1)" text-anchor="middle" font-size="16.5" class="n">1980</text>
<text x="0" y="0" transform="translate(1531.1,446.7) scale(0.79,1)" text-anchor="middle" font-size="16.5" class="n">1990</text>
<text x="0" y="0" transform="translate(1589.1,446.7) scale(0.79,1)" text-anchor="middle" font-size="16.5" class="n">2000</text>
<g clip-path="url(#c3a)"><text x="0" y="0" transform="translate(1136.6,217.7) rotate(-90)" text-anchor="middle" font-size="23.9" class="t">Effective population size</text></g>
<text x="1430.3" y="476.2" text-anchor="middle" font-size="22.5" class="t">Year</text>
<text x="1405.0" y="56.6" font-size="25.5" class="b">3a</text>
<clipPath id="cp4d"><rect x="66.9" y="527.6" width="477.8" height="375.5"/></clipPath>
<g clip-path="url(#cp4d)">
<path d="M72.2,582.7 C73.0,583.2 75.5,585.5 76.9,585.8 C78.3,586.1 79.3,584.3 80.5,584.3 C81.7,584.3 82.6,584.8 84.2,585.8 C85.8,586.8 88.5,589.5 90.2,590.0 C91.9,590.5 93.3,588.7 94.5,588.8 C95.7,588.9 95.8,590.1 97.5,590.4 C99.2,590.7 102.8,590.5 104.8,590.8 C106.8,591.1 107.2,590.6 109.6,592.4 C112.0,594.2 116.9,600.6 119.3,601.8 C121.7,602.9 122.7,599.1 124.2,599.3 C125.7,599.4 126.7,602.7 128.4,602.7 C130.1,602.7 132.8,599.2 134.5,599.1 C136.2,599.0 137.2,601.8 138.7,601.8 C140.2,601.8 141.6,599.5 143.6,598.8 C145.6,598.1 148.4,598.3 150.8,597.6 C153.2,596.9 156.1,594.9 158.1,594.8 C160.1,594.6 161.0,596.3 163.0,596.7 C165.0,597.1 167.2,596.3 170.2,597.3 C173.2,598.3 178.4,601.6 181.2,602.7 C184.0,603.8 184.6,603.7 187.2,603.9 C189.8,604.1 193.3,602.9 196.9,603.7 C200.5,604.5 203.9,607.7 209.0,608.5 C214.1,609.3 222.8,608.4 227.2,608.5 C231.6,608.6 232.3,609.1 235.7,609.4 C239.1,609.6 242.8,610.2 247.8,610.0 C252.9,609.8 260.1,609.7 266.0,608.3 C271.9,606.9 275.7,604.4 282.9,601.6 C290.1,598.9 301.1,594.7 309.1,591.8 C317.1,588.9 323.6,586.8 330.9,584.2 C338.2,581.7 345.4,579.2 352.7,576.5 C360.0,573.8 367.5,570.9 374.5,567.8 C381.5,564.7 387.5,561.1 394.8,558.0 C402.1,554.9 410.7,552.2 418.2,549.3 C425.7,546.4 432.7,543.0 440.0,540.5 C447.3,538.0 454.5,535.7 461.8,534.4 C469.1,533.1 476.3,532.9 483.6,532.5 C490.9,532.1 495.3,531.9 505.5,531.8 C515.7,531.7 538.2,531.8 544.7,531.8 L544.7,678.4 C541.8,678.1 532.8,677.3 527.3,676.9 C521.8,676.5 516.5,675.9 512.0,675.8 C507.4,675.7 503.4,675.8 500.0,676.2 C496.6,676.6 494.4,676.7 491.5,678.0 C488.6,679.3 485.3,681.9 482.8,684.2 C480.3,686.5 478.9,688.1 476.6,691.6 C474.3,695.1 472.6,698.1 469.2,705.3 C465.8,712.5 460.4,725.4 456.3,734.6 C452.2,743.8 449.1,750.8 444.4,760.7 C439.6,770.6 432.9,784.0 427.8,793.9 C422.7,803.8 418.7,812.1 413.6,820.0 C408.5,827.9 401.4,835.5 397.0,841.4 C392.6,847.3 391.9,850.5 387.5,855.6 C383.1,860.7 376.4,867.7 370.9,872.2 C365.3,876.8 360.9,879.9 354.2,882.9 C347.5,885.9 338.4,888.2 330.5,890.0 C322.6,891.8 313.9,892.8 306.8,893.6 C299.7,894.4 293.7,894.8 287.8,894.8 C281.9,894.8 274.8,894.0 271.2,893.6 C267.6,893.2 267.9,892.8 266.0,892.1 C264.1,891.5 261.7,890.0 259.9,889.7 C258.1,889.4 257.1,890.1 255.1,890.3 C253.1,890.5 250.6,891.5 247.8,890.9 C245.0,890.3 242.8,887.2 238.1,886.7 C233.4,886.2 224.3,888.3 219.9,887.9 C215.5,887.5 215.7,885.1 211.5,884.2 C207.3,883.3 199.3,882.8 194.5,882.4 C189.7,882.0 185.4,882.1 182.4,881.6 C179.4,881.1 178.1,879.3 176.3,879.4 C174.5,879.5 173.5,881.9 171.5,882.4 C169.5,882.9 166.4,883.5 164.2,882.4 C162.0,881.3 160.5,876.9 158.1,875.8 C155.7,874.7 152.0,875.4 149.6,875.8 C147.2,876.2 145.4,878.4 143.6,878.2 C141.8,878.0 141.9,875.2 138.7,874.8 C135.5,874.4 128.0,875.5 124.2,876.0 C120.4,876.5 118.5,877.8 115.7,877.6 C112.9,877.4 110.0,875.3 107.2,874.8 C104.4,874.2 101.4,875.2 98.7,874.3 C96.0,873.4 93.0,870.0 90.8,869.5 C88.6,869.0 86.8,871.1 85.4,871.5 C84.0,871.9 83.9,872.5 82.4,872.1 C80.9,871.7 78.0,869.3 76.3,869.1 C74.6,868.9 72.9,870.6 72.2,870.9 Z" fill="#87b3d4"/>
<path d="M71.6,784.4 C79.3,785.2 104.3,788.1 117.8,789.4 C131.3,790.7 142.9,791.2 152.5,792.3 C162.1,793.4 166.0,794.7 175.6,796.0 C185.2,797.3 197.7,799.3 210.3,800.3 C222.9,801.3 240.8,802.0 251.0,802.2 C261.1,802.4 264.7,802.3 271.2,801.5 C277.7,800.7 284.3,799.1 290.2,797.5 C296.1,795.9 300.5,794.4 306.8,792.0 C313.1,789.6 321.0,787.4 328.1,783.2 C335.2,779.0 342.4,773.7 349.5,766.6 C356.6,759.5 363.3,750.8 370.9,740.5 C378.5,730.2 389.2,713.1 394.9,704.6 C400.5,696.1 401.5,694.5 404.8,689.2 C408.1,684.0 411.6,678.3 414.7,673.1 C417.8,667.9 420.4,663.0 423.3,658.2 C426.2,653.5 429.3,648.1 432.0,644.6 C434.7,641.1 436.1,640.1 439.4,637.2 C442.7,634.3 447.7,629.6 451.8,627.2 C455.9,624.8 460.5,624.1 464.2,622.9 C467.9,621.7 470.4,620.6 474.1,619.8 C477.8,619.0 482.2,618.5 486.5,618.0 C490.8,617.5 494.4,617.0 500.0,616.7 C505.6,616.5 512.5,616.4 520.0,616.5 C527.5,616.6 540.6,617.1 544.7,617.2" fill="none" stroke="#a8d7f7" stroke-width="5" stroke-linejoin="round"/>
<path d="M71.6,784.4 C79.3,785.2 104.3,788.1 117.8,789.4 C131.3,790.7 142.9,791.2 152.5,792.3 C162.1,793.4 166.0,794.7 175.6,796.0 C185.2,797.3 197.7,799.3 210.3,800.3 C222.9,801.3 240.8,802.0 251.0,802.2 C261.1,802.4 264.7,802.3 271.2,801.5 C277.7,800.7 284.3,799.1 290.2,797.5 C296.1,795.9 300.5,794.4 306.8,792.0 C313.1,789.6 321.0,787.4 328.1,783.2 C335.2,779.0 342.4,773.7 349.5,766.6 C356.6,759.5 363.3,750.8 370.9,740.5 C378.5,730.2 389.2,713.1 394.9,704.6 C400.5,696.1 401.5,694.5 404.8,689.2 C408.1,684.0 411.6,678.3 414.7,673.1 C417.8,667.9 420.4,663.0 423.3,658.2 C426.2,653.5 429.3,648.1 432.0,644.6 C434.7,641.1 436.1,640.1 439.4,637.2 C442.7,634.3 447.7,629.6 451.8,627.2 C455.9,624.8 460.5,624.1 464.2,622.9 C467.9,621.7 470.4,620.6 474.1,619.8 C477.8,619.0 482.2,618.5 486.5,618.0 C490.8,617.5 494.4,617.0 500.0,616.7 C505.6,616.5 512.5,616.4 520.0,616.5 C527.5,616.6 540.6,617.1 544.7,617.2" fill="none" stroke="#0b3f68" stroke-width="2.5" stroke-linejoin="round"/>
</g>
<line x1="251.0" y1="527.6" x2="251.0" y2="903.1" stroke="#000" stroke-opacity="0.35" stroke-width="1.3"/>
<line x1="251.0" y1="527.6" x2="251.0" y2="903.1" stroke="#000" stroke-width="2.5" stroke-dasharray="2.8 2"/>
<line x1="394.7" y1="527.6" x2="394.7" y2="903.1" stroke="#000" stroke-opacity="0.2" stroke-width="1"/>
<line x1="394.7" y1="527.6" x2="394.7" y2="903.1" stroke="#000" stroke-opacity="0.75" stroke-width="1.7" stroke-dasharray="2.2 1.5"/>
<line x1="544.7" y1="527.6" x2="544.7" y2="903.1" stroke="#3a3a3a" stroke-width="1.8"/>
<path d="M66.9,903.1 L66.9,527.6 L544.7,527.6" fill="none" stroke="#151515" stroke-width="1.9"/>
<line x1="66.0" y1="903.1" x2="545.6" y2="903.1" stroke="#000" stroke-width="2"/>
<line x1="62.900000000000006" y1="903.1" x2="66.9" y2="903.1" stroke="#111" stroke-width="1.5"/>
<line x1="64.4" y1="874.8" x2="66.9" y2="874.8" stroke="#111" stroke-width="1.3"/>
<line x1="64.4" y1="858.3" x2="66.9" y2="858.3" stroke="#111" stroke-width="1.3"/>
<line x1="64.4" y1="846.6" x2="66.9" y2="846.6" stroke="#111" stroke-width="1.3"/>
<line x1="64.4" y1="837.5" x2="66.9" y2="837.5" stroke="#111" stroke-width="1.3"/>
<line x1="64.4" y1="830.1" x2="66.9" y2="830.1" stroke="#111" stroke-width="1.3"/>
<line x1="64.4" y1="823.8" x2="66.9" y2="823.8" stroke="#111" stroke-width="1.3"/>
<line x1="64.4" y1="818.3" x2="66.9" y2="818.3" stroke="#111" stroke-width="1.3"/>
<line x1="64.4" y1="813.5" x2="66.9" y2="813.5" stroke="#111" stroke-width="1.3"/>
<line x1="62.900000000000006" y1="809.2" x2="66.9" y2="809.2" stroke="#111" stroke-width="1.5"/>
<line x1="64.4" y1="781.0" x2="66.9" y2="781.0" stroke="#111" stroke-width="1.3"/>
<line x1="64.4" y1="764.4" x2="66.9" y2="764.4" stroke="#111" stroke-width="1.3"/>
<line x1="64.4" y1="752.7" x2="66.9" y2="752.7" stroke="#111" stroke-width="1.3"/>
<line x1="64.4" y1="743.6" x2="66.9" y2="743.6" stroke="#111" stroke-width="1.3"/>
<line x1="64.4" y1="736.2" x2="66.9" y2="736.2" stroke="#111" stroke-width="1.3"/>
<line x1="64.4" y1="729.9" x2="66.9" y2="729.9" stroke="#111" stroke-width="1.3"/>
<line x1="64.4" y1="724.4" x2="66.9" y2="724.4" stroke="#111" stroke-width="1.3"/>
<line x1="64.4" y1="719.6" x2="66.9" y2="719.6" stroke="#111" stroke-width="1.3"/>
<line x1="62.900000000000006" y1="715.4" x2="66.9" y2="715.4" stroke="#111" stroke-width="1.5"/>
<line x1="64.4" y1="687.1" x2="66.9" y2="687.1" stroke="#111" stroke-width="1.3"/>
<line x1="64.4" y1="670.6" x2="66.9" y2="670.6" stroke="#111" stroke-width="1.3"/>
<line x1="64.4" y1="658.8" x2="66.9" y2="658.8" stroke="#111" stroke-width="1.3"/>
<line x1="64.4" y1="649.7" x2="66.9" y2="649.7" stroke="#111" stroke-width="1.3"/>
<line x1="64.4" y1="642.3" x2="66.9" y2="642.3" stroke="#111" stroke-width="1.3"/>
<line x1="64.4" y1="636.0" x2="66.9" y2="636.0" stroke="#111" stroke-width="1.3"/>
<line x1="64.4" y1="630.6" x2="66.9" y2="630.6" stroke="#111" stroke-width="1.3"/>
<line x1="64.4" y1="625.8" x2="66.9" y2="625.8" stroke="#111" stroke-width="1.3"/>
<line x1="62.900000000000006" y1="621.5" x2="66.9" y2="621.5" stroke="#111" stroke-width="1.5"/>
<line x1="64.4" y1="593.2" x2="66.9" y2="593.2" stroke="#111" stroke-width="1.3"/>
<line x1="64.4" y1="576.7" x2="66.9" y2="576.7" stroke="#111" stroke-width="1.3"/>
<line x1="64.4" y1="565.0" x2="66.9" y2="565.0" stroke="#111" stroke-width="1.3"/>
<line x1="64.4" y1="555.9" x2="66.9" y2="555.9" stroke="#111" stroke-width="1.3"/>
<line x1="64.4" y1="548.4" x2="66.9" y2="548.4" stroke="#111" stroke-width="1.3"/>
<line x1="64.4" y1="542.1" x2="66.9" y2="542.1" stroke="#111" stroke-width="1.3"/>
<line x1="64.4" y1="536.7" x2="66.9" y2="536.7" stroke="#111" stroke-width="1.3"/>
<line x1="64.4" y1="531.9" x2="66.9" y2="531.9" stroke="#111" stroke-width="1.3"/>
<line x1="62.900000000000006" y1="527.6" x2="66.9" y2="527.6" stroke="#111" stroke-width="1.5"/>
<text x="0" y="0" transform="translate(60.1,910.3) scale(0.916,1)" text-anchor="end" font-size="15" class="n">1</text>
<text x="0" y="0" transform="translate(60.1,816.4) scale(0.916,1)" text-anchor="end" font-size="15" class="n">10</text>
<text x="0" y="0" transform="translate(60.1,722.5) scale(0.916,1)" text-anchor="end" font-size="15" class="n">100</text>
<text x="0" y="0" transform="translate(60.1,628.7) scale(0.916,1)" text-anchor="end" font-size="15" class="n">1000</text>
<text x="0" y="0" transform="translate(60.1,534.8) scale(0.916,1)" text-anchor="end" font-size="15" class="n">10000</text>
<line x1="74.1" y1="903.1" x2="74.1" y2="905.6" stroke="#111" stroke-width="1.5"/>
<line x1="127.5" y1="903.1" x2="127.5" y2="908.1" stroke="#111" stroke-width="1.5"/>
<line x1="180.9" y1="903.1" x2="180.9" y2="905.6" stroke="#111" stroke-width="1.5"/>
<line x1="234.3" y1="903.1" x2="234.3" y2="908.1" stroke="#111" stroke-width="1.5"/>
<line x1="287.7" y1="903.1" x2="287.7" y2="905.6" stroke="#111" stroke-width="1.5"/>
<line x1="341.1" y1="903.1" x2="341.1" y2="908.1" stroke="#111" stroke-width="1.5"/>
<line x1="394.5" y1="903.1" x2="394.5" y2="905.6" stroke="#111" stroke-width="1.5"/>
<line x1="447.9" y1="903.1" x2="447.9" y2="908.1" stroke="#111" stroke-width="1.5"/>
<line x1="501.3" y1="903.1" x2="501.3" y2="905.6" stroke="#111" stroke-width="1.5"/>
<text x="0" y="0" transform="translate(127.5,924.9) scale(0.9,1)" text-anchor="middle" font-size="15" class="n">1970</text>
<text x="0" y="0" transform="translate(234.3,924.9) scale(0.9,1)" text-anchor="middle" font-size="15" class="n">1980</text>
<text x="0" y="0" transform="translate(341.1,924.9) scale(0.9,1)" text-anchor="middle" font-size="15" class="n">1990</text>
<text x="0" y="0" transform="translate(447.9,924.9) scale(0.9,1)" text-anchor="middle" font-size="15" class="n">2000</text>
<g><text x="0" y="0" transform="translate(21.0,723.4) rotate(-90)" text-anchor="middle" font-size="23.9" class="t">Effective population size</text></g>
<text x="297" y="960.9" text-anchor="middle" font-size="22.5" class="t">Year</text>
<text x="321.6" y="571.1" font-size="25.5" class="b">4d</text>
<clipPath id="cp4a"><rect x="639.1" y="525.8" width="449.1" height="387.5"/></clipPath>
<g clip-path="url(#cp4a)">
<path d="M866.5,650.8 C867.6,651.0 870.8,652.0 873.0,651.9 C875.2,651.8 877.7,649.9 879.5,650.2 C881.3,650.5 881.6,653.9 883.8,653.6 C886.0,653.3 889.2,650.2 892.5,648.6 C895.8,647.0 900.3,645.4 903.4,644.0 C906.5,642.6 908.2,641.5 911.0,640.1 C913.8,638.7 917.2,637.2 920.0,635.5 C922.8,633.8 923.8,632.6 928.0,630.0 C932.2,627.4 939.3,623.7 945.0,619.7 C950.7,615.7 955.6,610.3 962.0,606.1 C968.4,601.9 977.1,597.6 983.6,594.4 C990.1,591.2 994.4,589.2 1000.9,586.9 C1007.4,584.6 1015.4,582.6 1022.6,580.4 C1029.8,578.2 1037.1,576.0 1044.3,573.8 C1051.5,571.6 1059.5,568.9 1066.0,567.3 C1072.5,565.7 1079.6,564.6 1083.3,564.1 C1087.0,563.6 1087.4,564.1 1088.2,564.1 L1088.2,668.2 C1087.4,668.0 1085.2,668.0 1083.3,667.1 C1081.4,666.2 1079.7,664.0 1076.8,662.7 C1073.9,661.4 1070.5,660.1 1066.0,659.5 C1061.5,658.9 1054.7,658.0 1050.0,658.8 C1045.3,659.6 1042.0,661.4 1038.0,664.4 C1034.0,667.4 1029.5,672.0 1025.7,676.8 C1021.9,681.6 1018.5,687.8 1015.4,693.3 C1012.3,698.8 1009.5,704.4 1007.1,709.9 C1004.7,715.4 1002.8,720.9 1000.9,726.4 C999.0,731.9 997.5,736.7 995.8,742.9 C994.1,749.1 992.1,757.0 990.6,763.5 C989.1,770.0 987.9,775.9 986.5,782.1 C985.1,788.3 984.1,794.5 982.4,800.7 C980.7,806.9 978.3,814.4 976.2,819.2 C974.1,824.0 973.7,824.7 970.0,829.6 C966.3,834.5 959.2,844.6 954.1,848.7 C949.0,852.8 943.2,853.3 939.2,854.2 C935.2,855.1 932.7,854.0 929.9,854.2 C927.1,854.5 925.9,855.9 922.5,855.7 C919.1,855.6 913.5,853.2 909.5,853.3 C905.5,853.4 901.7,856.1 898.3,856.1 C894.9,856.1 891.5,853.9 889.0,853.3 C886.5,852.7 885.0,853.5 883.5,852.4 C882.0,851.3 881.0,848.0 879.7,846.8 C878.5,845.6 877.2,844.9 876.0,845.0 C874.8,845.1 873.8,847.4 872.3,847.7 C870.8,848.0 867.6,846.9 866.7,846.8 Z" fill="#87b3d4"/>
<path d="M866.7,726.0 C868.6,725.5 874.5,724.3 877.9,723.2 C881.3,722.1 883.8,720.9 887.2,719.5 C890.6,718.1 894.3,716.9 898.3,714.9 C902.3,712.9 906.6,709.9 911.3,707.4 C915.9,704.9 923.0,701.9 926.2,700.0 C929.4,698.1 927.1,699.2 930.5,696.3 C933.9,693.3 941.1,687.5 946.7,682.3 C952.3,677.1 958.0,671.4 964.1,664.9 C970.2,658.4 977.5,649.0 983.6,643.2 C989.7,637.4 994.4,634.2 1000.9,630.2 C1007.4,626.2 1015.4,622.2 1022.6,619.4 C1029.8,616.6 1037.1,614.9 1044.3,613.3 C1051.5,611.7 1058.7,610.4 1066.0,609.6 C1073.3,608.8 1084.5,608.7 1088.2,608.5" fill="none" stroke="#a8d7f7" stroke-width="5" stroke-linejoin="round"/>
<path d="M866.7,726.0 C868.6,725.5 874.5,724.3 877.9,723.2 C881.3,722.1 883.8,720.9 887.2,719.5 C890.6,718.1 894.3,716.9 898.3,714.9 C902.3,712.9 906.6,709.9 911.3,707.4 C915.9,704.9 923.0,701.9 926.2,700.0 C929.4,698.1 927.1,699.2 930.5,696.3 C933.9,693.3 941.1,687.5 946.7,682.3 C952.3,677.1 958.0,671.4 964.1,664.9 C970.2,658.4 977.5,649.0 983.6,643.2 C989.7,637.4 994.4,634.2 1000.9,630.2 C1007.4,626.2 1015.4,622.2 1022.6,619.4 C1029.8,616.6 1037.1,614.9 1044.3,613.3 C1051.5,611.7 1058.7,610.4 1066.0,609.6 C1073.3,608.8 1084.5,608.7 1088.2,608.5" fill="none" stroke="#0b3f68" stroke-width="2.5" stroke-linejoin="round"/>
</g>
<line x1="930.3" y1="525.8" x2="930.3" y2="913.3" stroke="#000" stroke-opacity="0.35" stroke-width="1.3"/>
<line x1="930.3" y1="525.8" x2="930.3" y2="913.3" stroke="#000" stroke-width="2.5" stroke-dasharray="2.8 2"/>
<line x1="983.5" y1="525.8" x2="983.5" y2="913.3" stroke="#000" stroke-opacity="0.45" stroke-width="1.7" stroke-dasharray="2.2 1.5"/>
<line x1="1088.2" y1="525.8" x2="1088.2" y2="913.3" stroke="#3a3a3a" stroke-width="1.8"/>
<path d="M639.1,913.3 L639.1,525.8 L1088.2,525.8" fill="none" stroke="#151515" stroke-width="1.9"/>
<line x1="638.2" y1="913.3" x2="1089.1000000000001" y2="913.3" stroke="#000" stroke-width="2"/>
<line x1="635.1" y1="913.3" x2="639.1" y2="913.3" stroke="#111" stroke-width="1.5"/>
<line x1="636.6" y1="890.0" x2="639.1" y2="890.0" stroke="#111" stroke-width="1.3"/>
<line x1="636.6" y1="876.3" x2="639.1" y2="876.3" stroke="#111" stroke-width="1.3"/>
<line x1="636.6" y1="866.6" x2="639.1" y2="866.6" stroke="#111" stroke-width="1.3"/>
<line x1="636.6" y1="859.1" x2="639.1" y2="859.1" stroke="#111" stroke-width="1.3"/>
<line x1="636.6" y1="853.0" x2="639.1" y2="853.0" stroke="#111" stroke-width="1.3"/>
<line x1="636.6" y1="847.8" x2="639.1" y2="847.8" stroke="#111" stroke-width="1.3"/>
<line x1="636.6" y1="843.3" x2="639.1" y2="843.3" stroke="#111" stroke-width="1.3"/>
<line x1="636.6" y1="839.3" x2="639.1" y2="839.3" stroke="#111" stroke-width="1.3"/>
<line x1="635.1" y1="835.8" x2="639.1" y2="835.8" stroke="#111" stroke-width="1.5"/>
<line x1="636.6" y1="812.5" x2="639.1" y2="812.5" stroke="#111" stroke-width="1.3"/>
<line x1="636.6" y1="798.8" x2="639.1" y2="798.8" stroke="#111" stroke-width="1.3"/>
<line x1="636.6" y1="789.1" x2="639.1" y2="789.1" stroke="#111" stroke-width="1.3"/>
<line x1="636.6" y1="781.6" x2="639.1" y2="781.6" stroke="#111" stroke-width="1.3"/>
<line x1="636.6" y1="775.5" x2="639.1" y2="775.5" stroke="#111" stroke-width="1.3"/>
<line x1="636.6" y1="770.3" x2="639.1" y2="770.3" stroke="#111" stroke-width="1.3"/>
<line x1="636.6" y1="765.8" x2="639.1" y2="765.8" stroke="#111" stroke-width="1.3"/>
<line x1="636.6" y1="761.8" x2="639.1" y2="761.8" stroke="#111" stroke-width="1.3"/>
<line x1="635.1" y1="758.3" x2="639.1" y2="758.3" stroke="#111" stroke-width="1.5"/>
<line x1="636.6" y1="735.0" x2="639.1" y2="735.0" stroke="#111" stroke-width="1.3"/>
<line x1="636.6" y1="721.3" x2="639.1" y2="721.3" stroke="#111" stroke-width="1.3"/>
<line x1="636.6" y1="711.6" x2="639.1" y2="711.6" stroke="#111" stroke-width="1.3"/>
<line x1="636.6" y1="704.1" x2="639.1" y2="704.1" stroke="#111" stroke-width="1.3"/>
<line x1="636.6" y1="698.0" x2="639.1" y2="698.0" stroke="#111" stroke-width="1.3"/>
<line x1="636.6" y1="692.8" x2="639.1" y2="692.8" stroke="#111" stroke-width="1.3"/>
<line x1="636.6" y1="688.3" x2="639.1" y2="688.3" stroke="#111" stroke-width="1.3"/>
<line x1="636.6" y1="684.3" x2="639.1" y2="684.3" stroke="#111" stroke-width="1.3"/>
<line x1="635.1" y1="680.8" x2="639.1" y2="680.8" stroke="#111" stroke-width="1.5"/>
<line x1="636.6" y1="657.5" x2="639.1" y2="657.5" stroke="#111" stroke-width="1.3"/>
<line x1="636.6" y1="643.8" x2="639.1" y2="643.8" stroke="#111" stroke-width="1.3"/>
<line x1="636.6" y1="634.1" x2="639.1" y2="634.1" stroke="#111" stroke-width="1.3"/>
<line x1="636.6" y1="626.6" x2="639.1" y2="626.6" stroke="#111" stroke-width="1.3"/>
<line x1="636.6" y1="620.5" x2="639.1" y2="620.5" stroke="#111" stroke-width="1.3"/>
<line x1="636.6" y1="615.3" x2="639.1" y2="615.3" stroke="#111" stroke-width="1.3"/>
<line x1="636.6" y1="610.8" x2="639.1" y2="610.8" stroke="#111" stroke-width="1.3"/>
<line x1="636.6" y1="606.8" x2="639.1" y2="606.8" stroke="#111" stroke-width="1.3"/>
<line x1="635.1" y1="603.3" x2="639.1" y2="603.3" stroke="#111" stroke-width="1.5"/>
<line x1="636.6" y1="580.0" x2="639.1" y2="580.0" stroke="#111" stroke-width="1.3"/>
<line x1="636.6" y1="566.3" x2="639.1" y2="566.3" stroke="#111" stroke-width="1.3"/>
<line x1="636.6" y1="556.6" x2="639.1" y2="556.6" stroke="#111" stroke-width="1.3"/>
<line x1="636.6" y1="549.1" x2="639.1" y2="549.1" stroke="#111" stroke-width="1.3"/>
<line x1="636.6" y1="543.0" x2="639.1" y2="543.0" stroke="#111" stroke-width="1.3"/>
<line x1="636.6" y1="537.8" x2="639.1" y2="537.8" stroke="#111" stroke-width="1.3"/>
<line x1="636.6" y1="533.3" x2="639.1" y2="533.3" stroke="#111" stroke-width="1.3"/>
<line x1="636.6" y1="529.3" x2="639.1" y2="529.3" stroke="#111" stroke-width="1.3"/>
<line x1="635.1" y1="525.8" x2="639.1" y2="525.8" stroke="#111" stroke-width="1.5"/>
<text x="0" y="0" transform="translate(633.3,921.1) scale(0.76,1)" text-anchor="end" font-size="16" class="n">1.E-1</text>
<text x="0" y="0" transform="translate(633.3,843.6) scale(0.76,1)" text-anchor="end" font-size="16" class="n">1</text>
<text x="0" y="0" transform="translate(633.3,766.1) scale(0.76,1)" text-anchor="end" font-size="16" class="n">10</text>
<text x="0" y="0" transform="translate(633.3,688.6) scale(0.76,1)" text-anchor="end" font-size="16" class="n">100</text>
<text x="0" y="0" transform="translate(633.3,611.1) scale(0.76,1)" text-anchor="end" font-size="16" class="n">1000</text>
<text x="0" y="0" transform="translate(633.3,533.6) scale(0.76,1)" text-anchor="end" font-size="16" class="n">10000</text>
<line x1="639.2" y1="913.3" x2="639.2" y2="915.8" stroke="#111" stroke-width="1.5"/>
<line x1="658.2" y1="913.3" x2="658.2" y2="915.8" stroke="#111" stroke-width="1.5"/>
<line x1="677.2" y1="913.3" x2="677.2" y2="915.8" stroke="#111" stroke-width="1.5"/>
<line x1="696.2" y1="913.3" x2="696.2" y2="915.8" stroke="#111" stroke-width="1.5"/>
<line x1="715.2" y1="913.3" x2="715.2" y2="915.8" stroke="#111" stroke-width="1.5"/>
<line x1="734.2" y1="913.3" x2="734.2" y2="915.8" stroke="#111" stroke-width="1.5"/>
<line x1="753.2" y1="913.3" x2="753.2" y2="915.8" stroke="#111" stroke-width="1.5"/>
<line x1="772.1" y1="913.3" x2="772.1" y2="915.8" stroke="#111" stroke-width="1.5"/>
<line x1="791.1" y1="913.3" x2="791.1" y2="915.8" stroke="#111" stroke-width="1.5"/>
<line x1="810.1" y1="913.3" x2="810.1" y2="915.8" stroke="#111" stroke-width="1.5"/>
<line x1="829.1" y1="913.3" x2="829.1" y2="918.3" stroke="#111" stroke-width="1.5"/>
<line x1="848.1" y1="913.3" x2="848.1" y2="915.8" stroke="#111" stroke-width="1.5"/>
<line x1="867.1" y1="913.3" x2="867.1" y2="918.3" stroke="#111" stroke-width="1.5"/>
<line x1="886.1" y1="913.3" x2="886.1" y2="915.8" stroke="#111" stroke-width="1.5"/>
<line x1="905.0" y1="913.3" x2="905.0" y2="918.3" stroke="#111" stroke-width="1.5"/>
<line x1="924.0" y1="913.3" x2="924.0" y2="915.8" stroke="#111" stroke-width="1.5"/>
<line x1="943.0" y1="913.3" x2="943.0" y2="918.3" stroke="#111" stroke-width="1.5"/>
<line x1="962.0" y1="913.3" x2="962.0" y2="915.8" stroke="#111" stroke-width="1.5"/>
<line x1="981.0" y1="913.3" x2="981.0" y2="918.3" stroke="#111" stroke-width="1.5"/>
<line x1="1000.0" y1="913.3" x2="1000.0" y2="915.8" stroke="#111" stroke-width="1.5"/>
<line x1="1019.0" y1="913.3" x2="1019.0" y2="918.3" stroke="#111" stroke-width="1.5"/>
<line x1="1037.9" y1="913.3" x2="1037.9" y2="915.8" stroke="#111" stroke-width="1.5"/>
<line x1="1056.9" y1="913.3" x2="1056.9" y2="918.3" stroke="#111" stroke-width="1.5"/>
<line x1="1075.9" y1="913.3" x2="1075.9" y2="915.8" stroke="#111" stroke-width="1.5"/>
<text x="0" y="0" transform="translate(829.1,937.3) scale(0.77,1)" text-anchor="middle" font-size="16" class="n">1975</text>
<text x="0" y="0" transform="translate(867.1,937.3) scale(0.77,1)" text-anchor="middle" font-size="16" class="n">1980</text>
<text x="0" y="0" transform="translate(905.0,937.3) scale(0.77,1)" text-anchor="middle" font-size="16" class="n">1985</text>
<text x="0" y="0" transform="translate(943.0,937.3) scale(0.77,1)" text-anchor="middle" font-size="16" class="n">1990</text>
<text x="0" y="0" transform="translate(981.0,937.3) scale(0.77,1)" text-anchor="middle" font-size="16" class="n">1995</text>
<text x="0" y="0" transform="translate(1019.0,937.3) scale(0.77,1)" text-anchor="middle" font-size="16" class="n">2000</text>
<text x="0" y="0" transform="translate(1056.9,937.3) scale(0.77,1)" text-anchor="middle" font-size="16" class="n">2005</text>
<g><text x="0" y="0" transform="translate(594.0,735.7) rotate(-90)" text-anchor="middle" font-size="23.9" class="t">Effective population size</text></g>
<text x="854.5" y="964.5" text-anchor="middle" font-size="22.5" class="t">Year</text>
<text x="871.0" y="572.8" font-size="25.5" class="b">4a</text>
</svg>
</body></html>
